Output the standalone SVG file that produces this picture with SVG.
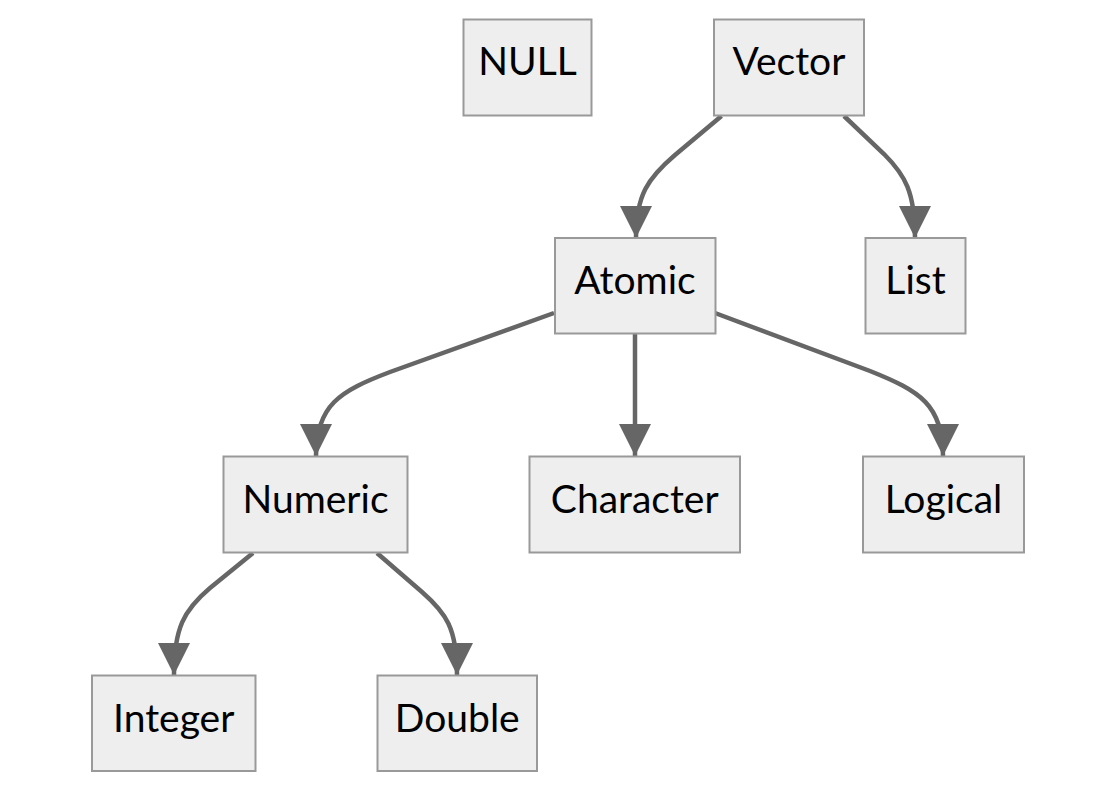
<svg xmlns="http://www.w3.org/2000/svg" width="1116" height="791" viewBox="0 0 1116 791">
<style>
.node rect{fill:#eeeeee;stroke:#999999;stroke-width:2}
.node text{font-family:Lato,"Open Sans","DejaVu Sans",sans-serif;font-size:39px;fill:#000;text-anchor:middle}
.edge{fill:none;stroke:#666666;stroke-width:4.5;marker-end:url(#arr)}
</style>
<defs>
<marker id="arr" markerUnits="userSpaceOnUse" markerWidth="32" markerHeight="32" viewBox="0 0 30 30" refX="30" refY="15" orient="auto">
<path d="M0,0 L30,15 L0,30 Z" fill="#666666"/>
</marker>
</defs>
<rect width="1116" height="791" fill="#ffffff"/>
<g id="connectors">
<path class="edge" d="M721.5,116 L675,155 C648,178 636,195 636,238"/>
<path class="edge" d="M844,116 L884,154 C905,175 915,192 915,238"/>
<path class="edge" d="M554,313 L390,372 C340,391 316,405 316,456"/>
<path class="edge" d="M635,333 L635,456"/>
<path class="edge" d="M715,313 L870,371 C920,391 943,405 943,456"/>
<path class="edge" d="M253,553 L210,588 C184,610 174,628 174,675"/>
<path class="edge" d="M377,553 L422,592 C446,613 457,628 457,675"/>
</g>
<g id="node-null" class="node"><rect x="463.5" y="19.5" width="128" height="96"/><text x="527.5" y="75">NULL</text></g>
<g id="node-vector" class="node"><rect x="714" y="19.5" width="150" height="96"/><text x="789" y="75">Vector</text></g>
<g id="node-atomic" class="node"><rect x="555" y="238" width="160.5" height="95.5"/><text x="635" y="294">Atomic</text></g>
<g id="node-list" class="node"><rect x="865.5" y="238" width="100" height="95.5"/><text x="915.5" y="294">List</text></g>
<g id="node-numeric" class="node"><rect x="223.5" y="456.5" width="184" height="96"/><text x="315.5" y="512.5">Numeric</text></g>
<g id="node-character" class="node"><rect x="529.5" y="456.5" width="210.5" height="96"/><text x="634.75" y="512.5">Character</text></g>
<g id="node-logical" class="node"><rect x="863" y="456.5" width="161" height="96"/><text x="943.5" y="512.5">Logical</text></g>
<g id="node-integer" class="node"><rect x="92" y="675.5" width="163.5" height="95.5"/><text x="173.75" y="731.5">Integer</text></g>
<g id="node-double" class="node"><rect x="377.5" y="675.5" width="159.5" height="95.5"/><text x="457.25" y="731.5">Double</text></g>
</svg>
